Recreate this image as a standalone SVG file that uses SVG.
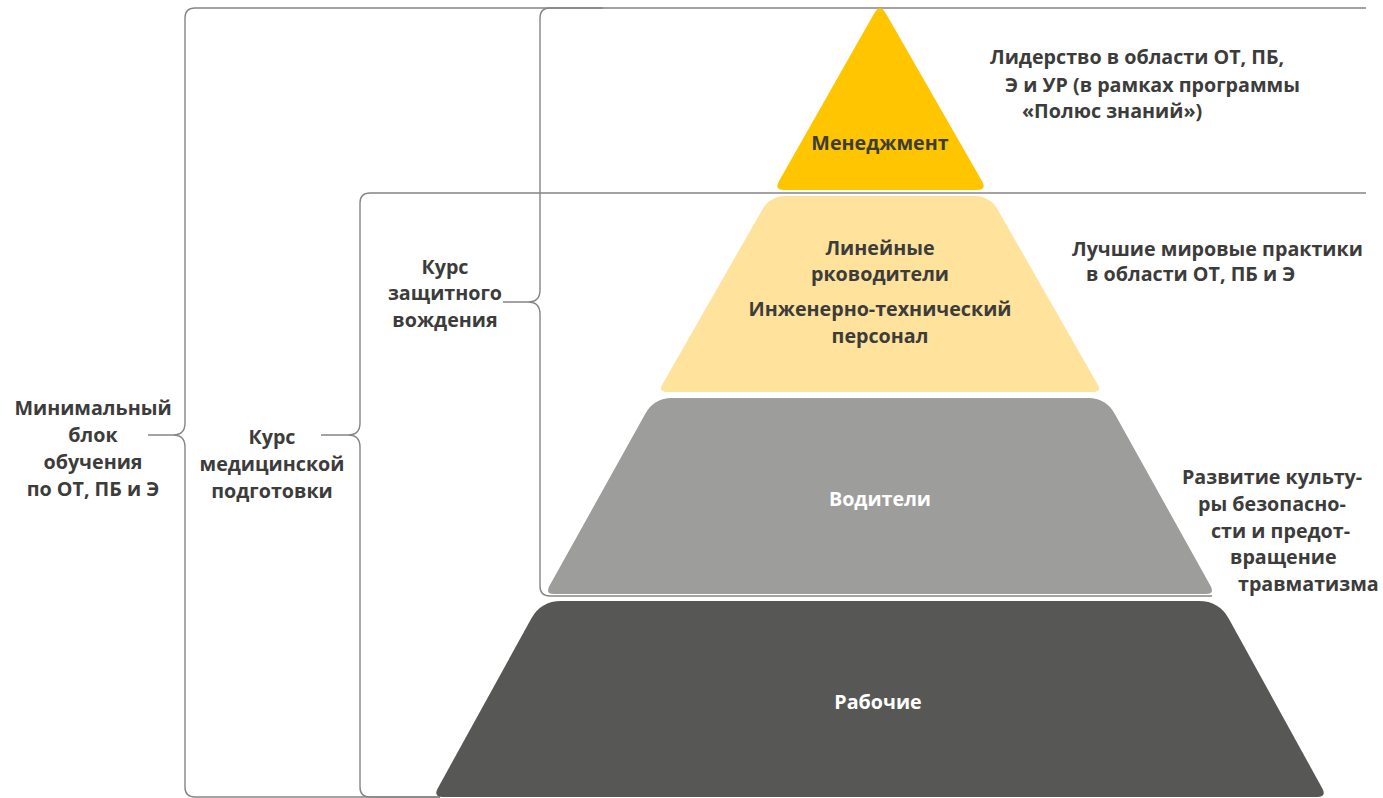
<svg xmlns="http://www.w3.org/2000/svg" width="1383" height="798" viewBox="0 0 1383 798">
<style>
.br{fill:none;stroke:#858585;stroke-width:1.4}
text{font-family:"Open Sans","DejaVu Sans",sans-serif;font-weight:700;font-size:19.7px;fill:#3c3c3b}
.c{text-anchor:middle}
.w{fill:#ffffff}
</style>
<rect width="1383" height="798" fill="#ffffff"/>
<g id="connectors">
<path class="br" d="M603,8 L195,8 Q185,8 185,18 L185,423 Q185,435 173,435 Q185,435 185,447 L185,787 Q185,797 195,797 L440,797 M148,435 L173,435"/>
<path class="br" d="M1366,193 L370,193 Q360,193 360,203 L360,423 Q360,435 348,435 Q360,435 360,447 L360,787 Q360,797 370,797 L440,797 M321,435 L348,435"/>
<path class="br" d="M1366,8 L550,8 Q540,8 540,18 L540,290 Q540,302 528,302 Q540,302 540,314 L540,586 Q540,596 550,596 L1212,596 M503,302 L528,302"/>
</g>
<g id="management">
<path fill="#FFC600" d="M885.9,13.4 L982.1,181.3 Q987,190 977,190 L784,190 Q774,190 778.9,181.3 L874.1,13.4 Q880,3 885.9,13.4 Z"/>
<text class="c" x="880" y="150">Менеджмент</text>
</g>
<g id="line-managers">
<path fill="#FFE29B" d="M786,196 L974,196 Q990,196 997.9,209.9 L1097.5,384.2 Q1102,392 1093,392 L667,392 Q658,392 662.5,384.2 L762.1,209.9 Q770,196 786,196 Z"/>
<text class="c" x="880" y="255">Линейные</text>
<text class="c" x="880" y="281">рководители</text>
<text class="c" x="880" y="316">Инженерно-технический</text>
<text class="c" x="880" y="343">персонал</text>
</g>
<g id="drivers">
<path fill="#9D9D9C" d="M672,398 L1088,398 Q1106,398 1114.7,413.7 L1210.6,586.1 Q1215,594 1206,594 L554,594 Q545,594 549.4,586.1 L645.3,413.7 Q654,398 672,398 Z"/>
<text class="c w" x="880" y="506">Водители</text>
</g>
<g id="workers">
<path fill="#575756" d="M561,601 L1199,601 Q1219,601 1228.7,618.5 L1322.2,788.2 Q1327,797 1317,797 L443,797 Q433,797 437.8,788.2 L531.3,618.5 Q541,601 561,601 Z"/>
<text class="c w" x="878" y="709">Рабочие</text>
</g>
<g id="min-block">
<text class="c" x="93" y="415">Минимальный</text>
<text class="c" x="93" y="442">блок</text>
<text class="c" x="93" y="469">обучения</text>
<text class="c" x="93" y="496">по ОТ, ПБ и Э</text>
</g>
<g id="medical">
<text class="c" x="272" y="444">Курс</text>
<text class="c" x="272" y="471">медицинской</text>
<text class="c" x="272" y="498">подготовки</text>
</g>
<g id="driving">
<text class="c" x="445" y="274">Курс</text>
<text class="c" x="445" y="300">защитного</text>
<text class="c" x="445" y="327">вождения</text>
</g>
<g id="leadership">
<text x="990" y="64">Лидерство в области ОТ, ПБ,</text>
<text x="1005" y="92">Э и УР (в рамках программы</text>
<text x="1022" y="118">«Полюс знаний»)</text>
</g>
<g id="best-practices">
<text x="1072" y="256">Лучшие мировые практики</text>
<text x="1086" y="281">в области ОТ, ПБ и Э</text>
</g>
<g id="culture">
<text x="1182" y="484">Развитие культу-</text>
<text x="1198" y="511">ры безопасно-</text>
<text x="1211" y="538">сти и предот-</text>
<text x="1230" y="564">вращение</text>
<text x="1238" y="591">травматизма</text>
</g>
</svg>
